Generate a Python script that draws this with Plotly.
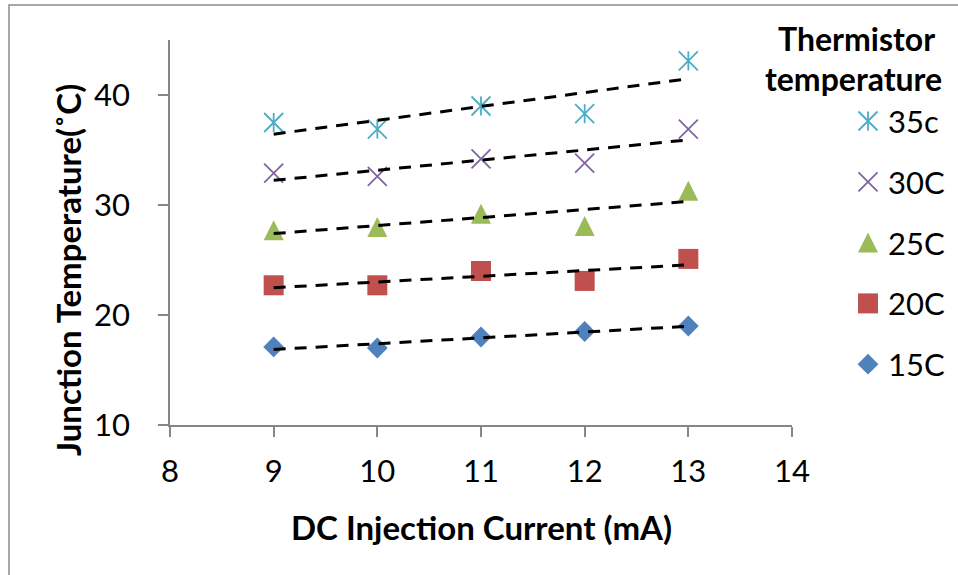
import numpy as np
import plotly.graph_objects as go

# DC injection current (mA)
current = [9, 10, 11, 12, 13]

# Junction temperature (°C) per thermistor set-point
t15 = [17.1, 17.0, 18.0, 18.5, 19.0]
t20 = [22.7, 22.7, 24.0, 23.1, 25.1]
t25 = [27.7, 28.0, 29.2, 28.1, 31.3]
t30 = [32.9, 32.6, 34.2, 33.8, 36.9]
t35 = [37.5, 36.9, 39.0, 38.3, 43.1]

series_names = ["15C", "20C", "25C", "30C", "35c"]
series_values = [t15, t20, t25, t30, t35]

x_ticks = [8, 9, 10, 11, 12, 13, 14]
y_ticks = [10, 20, 30, 40]

x_title = "DC Injection Current (mA)"
y_title = "Junction Temperature(˚C)"

FONT = "Lato"
W, H = 958, 575
# plot-area box in pixels
PX0, PX1, PY0, PY1 = 170, 792, 40, 425

colors = {"15C": "#4F81BD", "20C": "#C0504D", "25C": "#9BBB59",
          "30C": "#8064A2", "35c": "#4BACC6"}
markers = {
    "15C": [dict(symbol="diamond", size=16, color=colors["15C"])],
    "20C": [dict(symbol="square", size=20, color=colors["20C"])],
    # flipped arrow head, shifted so the triangle is centred on the point
    "25C": [dict(symbol="arrow-down", size=20, angle=180, standoff=10,
                 color=colors["25C"])],
    "30C": [dict(symbol="x-thin-open", size=19, color=colors["30C"],
                 line=dict(width=1.8, color=colors["30C"]))],
    "35c": [dict(symbol="x-thin-open", size=19, color=colors["35c"],
                 line=dict(width=1.8, color=colors["35c"])),
            dict(symbol="line-ns-open", size=13.6, color=colors["35c"],
                 line=dict(width=1.8, color=colors["35c"]))],
}

fig = go.Figure()

# data markers
for name, vals in zip(series_names, series_values):
    for m in markers[name]:
        fig.add_trace(go.Scatter(x=current, y=vals, mode="markers", marker=m,
                                 showlegend=False, hoverinfo="skip"))

# linear trendlines (drawn above markers)
for name, vals in zip(series_names, series_values):
    slope, icpt = np.polyfit(current, vals, 1)
    xs = np.array([min(current), max(current)], dtype=float)
    fig.add_trace(go.Scatter(x=xs, y=slope * xs + icpt, mode="lines",
                             line=dict(color="black", width=3, dash="12px,9px"),
                             showlegend=False, hoverinfo="skip"))

# legend keys on a full-figure pixel axis
legend_order = ["35c", "30C", "25C", "20C", "15C"]
key_x, key_y0, key_dy = 868, 121, 60.8
for i, name in enumerate(legend_order):
    ky = key_y0 + i * key_dy
    for m in markers[name]:
        fig.add_trace(go.Scatter(x=[key_x], y=[ky], mode="markers", marker=m,
                                 xaxis="x2", yaxis="y2", showlegend=False,
                                 hoverinfo="skip"))
    fig.add_annotation(x=(key_x + 18) / W, y=1 - ky / H, xref="paper", yref="paper",
                       text=name, showarrow=False, xanchor="left", yanchor="middle",
                       font=dict(family=FONT, size=31, color="black"))

fig.add_annotation(x=856 / W, y=1 - 38 / H, xref="paper", yref="paper",
                   text="<b>Thermistor</b>", showarrow=False,
                   xanchor="center", yanchor="middle",
                   font=dict(family=FONT, size=32, color="black"))
fig.add_annotation(x=853 / W, y=1 - 78 / H, xref="paper", yref="paper",
                   text="<b>temperature</b>", showarrow=False,
                   xanchor="center", yanchor="middle",
                   font=dict(family=FONT, size=32, color="black"))

# axis titles
fig.add_annotation(x=(PX0 + PX1) / 2 / W, y=1 - 527 / H, xref="paper", yref="paper",
                   text=f"<b>{x_title}</b>", showarrow=False,
                   xanchor="center", yanchor="middle",
                   font=dict(family=FONT, size=33, color="black"))
fig.add_annotation(x=68 / W, y=1 - 270 / H, xref="paper", yref="paper",
                   text=f"<b>{y_title}</b>", showarrow=False,
                   textangle=-90, xanchor="center", yanchor="middle",
                   font=dict(family=FONT, size=33, color="black"))

# outer chart frame
fig.add_shape(type="rect", xref="paper", yref="paper",
              x0=9 / W, x1=1.01, y0=-0.02, y1=1 - 5 / H,
              line=dict(color="#8C8C8C", width=1.5), fillcolor="rgba(0,0,0,0)")

axis_line = "#868686"
fig.update_layout(
    width=W, height=H,
    margin=dict(l=0, r=0, t=0, b=0),
    paper_bgcolor="white",
    plot_bgcolor="rgba(0,0,0,0)",
    showlegend=False,
    xaxis=dict(domain=[PX0 / W, PX1 / W], range=[8, 14], tickvals=x_ticks,
               ticks="outside", ticklen=10, tickwidth=1.5, tickcolor=axis_line,
               showline=True, linecolor=axis_line, linewidth=1.5,
               showgrid=False, zeroline=False, ticklabelstandoff=8,
               tickfont=dict(family=FONT, size=31, color="black"),
               anchor="y", automargin=False),
    yaxis=dict(domain=[1 - PY1 / H, 1 - PY0 / H], range=[10, 45], tickvals=y_ticks,
               ticks="outside", ticklen=10, tickwidth=1.5, tickcolor=axis_line,
               showline=True, linecolor=axis_line, linewidth=1.5,
               showgrid=False, zeroline=False, ticklabelstandoff=22,
               tickfont=dict(family=FONT, size=31, color="black"),
               anchor="x", automargin=False),
    xaxis2=dict(domain=[0, 1], range=[0, W], visible=False, anchor="y2",
                fixedrange=True),
    yaxis2=dict(domain=[0, 1], range=[H, 0], visible=False, anchor="x2",
                fixedrange=True),
)

fig.write_html("out.html")
